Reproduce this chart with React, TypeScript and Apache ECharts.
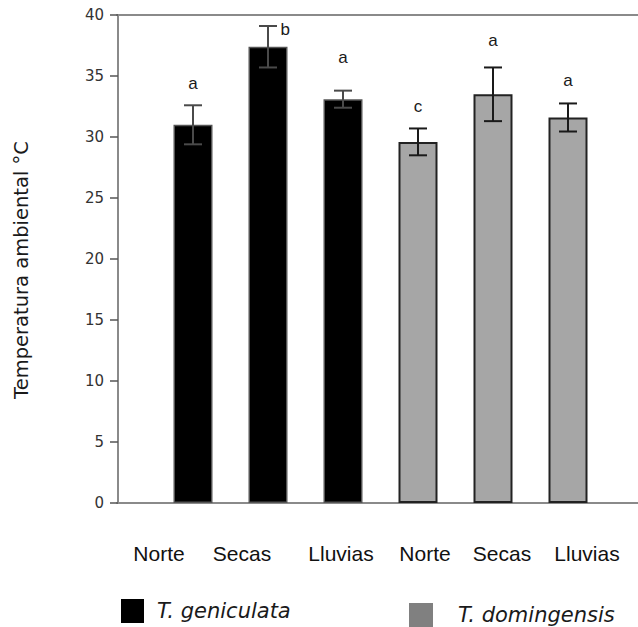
import React, { useEffect, useRef } from "react";
import * as echarts from "echarts";

// ---- data ----
const seasons = ["Norte", "Secas", "Lluvias"];
const categories = [...seasons, ...seasons];
const speciesNames = ["T. geniculata", "T. domingensis"];
const barPositions = [1, 2, 3, 4, 5, 6];
const geniculataMean = [31.0, 37.4, 33.1];
const geniculataErr = [1.6, 1.7, 0.7];
const domingensisMean = [29.6, 33.5, 31.6];
const domingensisErr = [1.1, 2.2, 1.15];
const letters = ["a", "b", "a", "c", "a", "a"];
const letterPosX = [1, 2.23, 3, 4, 5, 6];
const letterPosY = [34.4, 38.85, 36.5, 32.5, 37.95, 34.65];
const yMin = 0;
const yMax = 40;
const yInterval = 5;

// ---- layout (pixels) ----
const categoryLabelPx = [159, 242, 341, 425, 502, 587];

export default function App() {
  const ref = useRef<HTMLDivElement>(null);

  useEffect(() => {
    if (!ref.current) return;
    const chart = echarts.init(ref.current, undefined, { renderer: "svg" });

    const genBars = geniculataMean.map((v, i) => [barPositions[i], v]);
    const domBars = domingensisMean.map((v, i) => [barPositions[i + 3], v]);
    const genErr = geniculataMean.map((v, i) => [barPositions[i], v - geniculataErr[i], v + geniculataErr[i]]);
    const domErr = domingensisMean.map((v, i) => [barPositions[i + 3], v - domingensisErr[i], v + domingensisErr[i]]);
    const letterData = letters.map((l, i) => [letterPosX[i], letterPosY[i]]);

    const errRender = (color: string) => (params: any, api: any) => {
      const x = api.value(0);
      const lo = api.value(1);
      const hi = api.value(2);
      const pHi = api.coord([x, hi]);
      const pLo = api.coord([x, lo]);
      const half = 9;
      const style = { stroke: color, lineWidth: 2 };
      return {
        type: "group",
        children: [
          { type: "line", shape: { x1: pHi[0], y1: pHi[1], x2: pLo[0], y2: pLo[1] }, style },
          { type: "line", shape: { x1: pHi[0] - half, y1: pHi[1], x2: pHi[0] + half, y2: pHi[1] }, style },
          { type: "line", shape: { x1: pLo[0] - half, y1: pLo[1], x2: pLo[0] + half, y2: pLo[1] }, style },
        ],
      };
    };

    const letterRender = (params: any, api: any) => {
      const p = api.coord([api.value(0), api.value(1)]);
      return {
        type: "text",
        x: p[0],
        y: p[1],
        style: {
          text: letters[params.dataIndex],
          fontFamily: "Liberation Sans",
          fontSize: 17,
          fill: "#1a1a1a",
          align: "center",
          verticalAlign: "middle",
        },
      };
    };

    const axisGray = "#8a8a8a";
    const xRange = { min: -0.0133, max: 6.9333 };

    chart.setOption({
      animation: false,
      backgroundColor: "#fff",
      grid: { left: 117, right: 0, top: 15, bottom: 124, outerBoundsMode: "none", containLabel: false },
      xAxis: [
        {
          type: "value",
          ...xRange,
          position: "bottom",
          axisLine: { show: true, onZero: false, lineStyle: { color: axisGray, width: 2 } },
          axisTick: { show: false },
          axisLabel: { show: false },
          splitLine: { show: false },
        },
        {
          type: "value",
          ...xRange,
          position: "top",
          axisLine: { show: true, onZero: false, lineStyle: { color: axisGray, width: 2 } },
          axisTick: { show: false },
          axisLabel: { show: false },
          splitLine: { show: false },
        },
      ],
      yAxis: {
        type: "value",
        min: yMin,
        max: yMax,
        interval: yInterval,
        name: "Temperatura ambiental °C",
        nameLocation: "middle",
        nameRotate: 90,
        nameGap: 86,
        nameTextStyle: {
          fontFamily: "DejaVu Sans",
          fontSize: 19.5,
          color: "#1a1a1a",
          padding: [0, 22, 0, 0],
        },
        axisLine: { show: true, lineStyle: { color: axisGray, width: 2 } },
        axisTick: { show: true, length: 8, lineStyle: { color: "#555", width: 1.5 } },
        axisLabel: { fontFamily: "DejaVu Sans", fontSize: 15, color: "#333", margin: 13 },
        splitLine: { show: false },
      },
      legend: [
        {
          data: [{ name: speciesNames[0], itemStyle: { color: "#000", borderWidth: 0 } }],
          left: 116,
          top: 594,
          icon: "rect",
          itemWidth: 23,
          itemHeight: 24,
          selectedMode: false,
          textStyle: {
            fontFamily: "DejaVu Sans",
            fontStyle: "italic",
            fontSize: 21,
            color: "#1a1a1a",
            padding: [0, 0, 0, 8],
          },
        },
        {
          data: [{ name: speciesNames[1], itemStyle: { color: "#808080", borderWidth: 0 } }],
          left: 404,
          top: 598,
          icon: "rect",
          itemWidth: 24,
          itemHeight: 24,
          selectedMode: false,
          textStyle: {
            fontFamily: "DejaVu Sans",
            fontStyle: "italic",
            fontSize: 21,
            color: "#1a1a1a",
            padding: [0, 0, 0, 20],
          },
        },
      ],
      series: [
        {
          name: speciesNames[0],
          type: "bar",
          data: genBars,
          barWidth: 39,
          itemStyle: { color: "#000", borderColor: "#555", borderWidth: 1.5 },
          z: 2,
        },
        {
          name: speciesNames[1],
          type: "bar",
          data: domBars,
          barWidth: 39,
          barGap: "-100%",
          itemStyle: { color: "#a6a6a6", borderColor: "#222", borderWidth: 2 },
          z: 2,
        },
        {
          type: "custom",
          data: genErr,
          encode: { x: 0, y: [1, 2] },
          renderItem: errRender("#4a4a4a"),
          z: 5,
        },
        {
          type: "custom",
          data: domErr,
          encode: { x: 0, y: [1, 2] },
          renderItem: errRender("#1a1a1a"),
          z: 5,
        },
        {
          type: "custom",
          data: letterData,
          encode: { x: 0, y: 1 },
          renderItem: letterRender,
          clip: false,
          z: 6,
        },
      ],
      graphic: categories.map((c, i) => ({
        type: "text",
        x: categoryLabelPx[i],
        y: 553,
        style: {
          text: c,
          fontFamily: "Liberation Sans",
          fontSize: 21,
          fill: "#111",
          align: "center",
          verticalAlign: "middle",
        },
      })),
    });

    return () => chart.dispose();
  }, []);

  return (
    <div
      ref={ref}
      style={{ position: "absolute", left: 0, top: 0, width: 638, height: 627 }}
    />
  );
}
